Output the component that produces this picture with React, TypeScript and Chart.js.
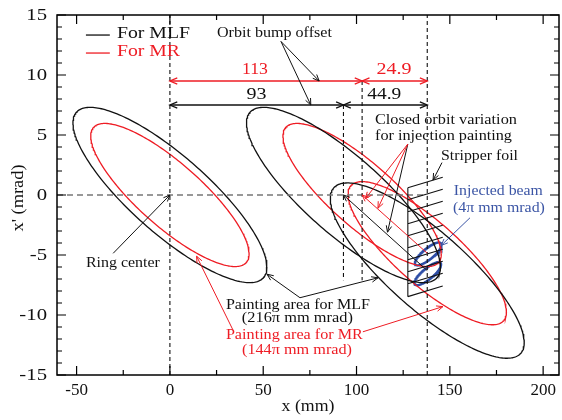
import React, { useEffect, useRef } from "react";
import { Chart, registerables } from "chart.js";
Chart.register(...registerables);

// ---------- axes ----------
const X_MIN = -60.5, X_MAX = 208.5, Y_MIN = -15, Y_MAX = 15;
const xTicks = [-50, 0, 50, 100, 150, 200];
const yTicks = [-15, -10, -5, 0, 5, 10, 15];
const xMinorStep = 25;
const yMinorStep = 1;

// ---------- beam ellipses (emittance in pi mm mrad, Twiss) ----------
const MLF_EMITTANCE = 216;
const MR_EMITTANCE = 144;
const INJ_EMITTANCE = 4;
const RING_BETA = 12.5, RING_ALPHA = 1.445;
const INJ_BETA = 12.8, INJ_ALPHA = -1.39;
const mlfCentersX = [0, 93, 137.9];
const mlfCentersY = [0, 0, -6.3];
const mrCentersX = [0, 103, 137.9];
const mrCentersY = [0, 0, -4.85];
const injCentersX = [138.4, 138.2];
const injCentersY = [-4.9, -6.55];

// ---------- orbit bump ----------
const bumpMLF = 93;
const bumpMR = 103;
const injectionX = 137.9;
const offsetLabels = ["113", "24.9", "93", "44.9"];

// ---------- stripper foil ----------
const foilX = 127.5, foilTop = 0.6, foilBottom = -8.47;
const hatchY = [0.6, -0.4, -1.4, -2.4, -3.4, -4.4, -5.4, -6.4, -7.4, -8.47];
const hatchDx = 18.7, hatchDy = 0.88;

const BLACK = "#111111";
const RED = "#ee1c24";
const BLUE = "#3b55a5";
const FONT = '"Liberation Serif", "Times New Roman", serif';

function ellipsePoints(cx: number, cy: number, eps: number, beta: number, alpha: number) {
  const pts: { x: number; y: number }[] = [];
  const a = Math.sqrt(eps * beta), b = Math.sqrt(eps / beta);
  const n = 240;
  for (let i = 0; i <= n; i++) {
    const t = (2 * Math.PI * i) / n;
    pts.push({ x: cx + a * Math.cos(t), y: cy - b * (alpha * Math.cos(t) + Math.sin(t)) });
  }
  return pts;
}

// layout of annotations (data coordinates)
const texts = [
  { s: "Orbit bump offset", x: 56.0, y: 13.5, size: 14, w: 115, c: BLACK },
  { s: offsetLabels[0], x: 45.6, y: 10.42, size: 16.5, w: 26, c: RED },
  { s: offsetLabels[1], x: 120.1, y: 10.42, size: 16.5, w: 35, c: RED },
  { s: offsetLabels[2], x: 46.4, y: 8.33, size: 16.5, w: 20, c: BLACK },
  { s: offsetLabels[3], x: 114.9, y: 8.33, size: 16.5, w: 34, c: BLACK },
  { s: "Closed orbit variation", x: 147.9, y: 6.25, size: 14, w: 142, c: BLACK },
  { s: "for injection painting", x: 146.6, y: 4.92, size: 14, w: 137, c: BLACK },
  { s: "Stripper foil", x: 165.9, y: 3.25, size: 14, w: 77, c: BLACK },
  { s: "Injected beam", x: 176.0, y: 0.33, size: 14, w: 89, c: BLUE },
  { s: "(4\u03c0 mm mrad)", x: 176.3, y: -1.08, size: 14, w: 92, c: BLUE },
  { s: "Ring center", x: -25.2, y: -5.67, size: 14, w: 74, c: BLACK },
  { s: "Painting area for MLF", x: 68.6, y: -9.17, size: 14, w: 144, c: BLACK },
  { s: "(216\u03c0 mm mrad)", x: 68.3, y: -10.25, size: 14, w: 111, c: BLACK },
  { s: "Painting area for MR", x: 66.7, y: -11.67, size: 14, w: 137, c: RED },
  { s: "(144\u03c0 mm mrad)", x: 68.1, y: -12.92, size: 14, w: 110, c: RED },
  { s: "For MLF", x: -8.8, y: 13.42, size: 17, w: 73, c: BLACK },
  { s: "For MR", x: -11.5, y: 11.92, size: 17, w: 63, c: RED },
];

const pointers = [
  { from: [59.5, 12.8], to: [80, 9.5], c: BLACK },
  { from: [59.5, 12.8], to: [75.5, 7.5], c: BLACK },
  { from: [127.5, 4.25], to: [116.6, -3.1], c: BLACK },
  { from: [127.5, 4.25], to: [111.5, -1.1], c: RED },
  { from: [127.5, 4.25], to: [104.8, -0.3], c: RED },
  { from: [-30.4, -4.86], to: [0, 0], c: BLACK },
  { from: [69.7, -8.56], to: [52, -6.6], c: BLACK },
  { from: [69.7, -8.56], to: [111.5, -6.9], c: BLACK },
  { from: [33.8, -11.25], to: [14.3, -5.1], c: RED },
  { from: [103.4, -11.4], to: [146.3, -9.3], c: RED },
  { from: [145.8, 2.7], to: [141, 1.25], c: BLACK },
  { from: [160.8, -1.9], to: [145.4, -4.2], c: BLUE },
  { from: [mlfCentersX[2], mlfCentersY[2]], to: [bumpMLF, 0], c: BLACK },
  { from: [mrCentersX[2], mrCentersY[2]], to: [bumpMR, 0], c: RED },
];

function arrowHead(ctx: CanvasRenderingContext2D, x1: number, y1: number, x2: number, y2: number, len = 7, ang = 0.38) {
  const a = Math.atan2(y2 - y1, x2 - x1);
  ctx.beginPath();
  ctx.moveTo(x2 - len * Math.cos(a - ang), y2 - len * Math.sin(a - ang));
  ctx.lineTo(x2, y2);
  ctx.lineTo(x2 - len * Math.cos(a + ang), y2 - len * Math.sin(a + ang));
  ctx.stroke();
}

function drawText(ctx: CanvasRenderingContext2D, s: string, px: number, py: number, size: number, color: string, width?: number, align: CanvasTextAlign = "center") {
  ctx.save();
  ctx.font = `${size}px ${FONT}`;
  ctx.fillStyle = color;
  ctx.textBaseline = "middle";
  ctx.textAlign = align;
  const w = ctx.measureText(s).width;
  const sx = width ? width / w : 1;
  ctx.translate(px, py);
  ctx.scale(sx, 1);
  ctx.fillText(s, 0, 0);
  ctx.restore();
}

const overlay = {
  id: "overlay",
  afterDatasetsDraw(chart: any) {
    const ctx: CanvasRenderingContext2D = chart.ctx;
    const X = (v: number) => chart.scales.x.getPixelForValue(v);
    const Y = (v: number) => chart.scales.y.getPixelForValue(v);
    const area = chart.chartArea;
    ctx.save();
    ctx.lineCap = "butt";

    // stripper foil
    ctx.strokeStyle = BLACK;
    ctx.lineWidth = 1.1;
    ctx.beginPath();
    ctx.moveTo(X(foilX), Y(foilTop));
    ctx.lineTo(X(foilX), Y(foilBottom));
    hatchY.forEach((h) => {
      ctx.moveTo(X(foilX), Y(h));
      ctx.lineTo(X(foilX + hatchDx), Y(h + hatchDy));
    });
    ctx.stroke();

    // dimension arrows
    const dims = [
      { a: 0, b: bumpMR, y: 9.5, c: RED },
      { a: bumpMR, b: injectionX, y: 9.5, c: RED },
      { a: 0, b: bumpMLF, y: 7.5, c: BLACK },
      { a: bumpMLF, b: injectionX, y: 7.5, c: BLACK },
    ];
    dims.forEach((d) => {
      ctx.strokeStyle = d.c;
      ctx.lineWidth = 1.3;
      const x1 = X(d.a), x2 = X(d.b), yy = Y(d.y);
      ctx.beginPath();
      ctx.moveTo(x1, yy);
      ctx.lineTo(x2, yy);
      ctx.stroke();
      arrowHead(ctx, x2, yy, x1, yy, 8, 0.4);
      arrowHead(ctx, x1, yy, x2, yy, 8, 0.4);
    });

    // pointers
    pointers.forEach((p) => {
      ctx.strokeStyle = p.c;
      ctx.lineWidth = 1.0;
      const x1 = X(p.from[0]), y1 = Y(p.from[1]), x2 = X(p.to[0]), y2 = Y(p.to[1]);
      ctx.beginPath();
      ctx.moveTo(x1, y1);
      ctx.lineTo(x2, y2);
      ctx.stroke();
      arrowHead(ctx, x1, y1, x2, y2, 7, 0.4);
    });

    // legend samples
    ctx.lineWidth = 1.3;
    ctx.strokeStyle = BLACK;
    ctx.beginPath();
    ctx.moveTo(X(-45), Y(13.33));
    ctx.lineTo(X(-32.2), Y(13.33));
    ctx.stroke();
    ctx.strokeStyle = RED;
    ctx.beginPath();
    ctx.moveTo(X(-45), Y(11.83));
    ctx.lineTo(X(-32.2), Y(11.83));
    ctx.stroke();

    texts.forEach((t) => drawText(ctx, t.s, X(t.x), Y(t.y), t.size, t.c, t.w));

    // frame
    ctx.strokeStyle = "#000";
    ctx.lineWidth = 1.5;
    ctx.strokeRect(area.left, area.top, area.right - area.left, area.bottom - area.top);

    // ticks (inward, all four sides)
    ctx.lineWidth = 1.2;
    ctx.beginPath();
    for (let v = Math.ceil(X_MIN / xMinorStep) * xMinorStep; v <= X_MAX; v += xMinorStep) {
      const major = xTicks.includes(v);
      const L = major ? 9 : 5;
      const px = X(v);
      ctx.moveTo(px, area.bottom); ctx.lineTo(px, area.bottom - L);
      ctx.moveTo(px, area.top); ctx.lineTo(px, area.top + L);
    }
    for (let v = Y_MIN; v <= Y_MAX; v += yMinorStep) {
      const major = yTicks.includes(v);
      const L = major ? 9 : 5;
      const py = Y(v);
      ctx.moveTo(area.left, py); ctx.lineTo(area.left + L, py);
      ctx.moveTo(area.right, py); ctx.lineTo(area.right - L, py);
    }
    ctx.stroke();

    // tick labels
    xTicks.forEach((v) => drawText(ctx, String(v), X(v), area.bottom + 16, 17, "#111", undefined));
    yTicks.forEach((v) => {
      ctx.save();
      ctx.font = `17px ${FONT}`;
      ctx.fillStyle = "#111";
      ctx.textAlign = "right";
      ctx.textBaseline = "middle";
      ctx.translate(area.left - 10, Y(v) + 1);
      ctx.scale(1.22, 1);
      ctx.fillText(String(v), 0, 0);
      ctx.restore();
    });
    // axis titles
    drawText(ctx, "x (mm)", (area.left + area.right) / 2, 407, 17, "#111", 53);
    ctx.save();
    ctx.translate(19, 198);
    ctx.rotate(-Math.PI / 2);
    drawText(ctx, "x' (mrad)", 0, 0, 17, "#111", 67);
    ctx.restore();

    ctx.restore();
  },
};

export default function App() {
  const ref = useRef<HTMLCanvasElement | null>(null);
  useEffect(() => {
    if (!ref.current) return;
    const ell = (cx: number, cy: number, eps: number, beta: number, alpha: number, color: string, w: number) => ({
      data: ellipsePoints(cx, cy, eps, beta, alpha),
      showLine: true,
      borderColor: color,
      borderWidth: w,
      pointRadius: 0,
      fill: false,
      tension: 0,
    });
    const vline = (x: number, y1: number, y2: number, color: string, dash: number[]) => ({
      data: [{ x, y: y1 }, { x, y: y2 }],
      showLine: true,
      borderColor: color,
      borderWidth: 1.1,
      borderDash: dash,
      pointRadius: 0,
      fill: false,
    });
    const datasets: any[] = [
      vline(0, Y_MIN, Y_MAX, BLACK, [4, 3]),
      vline(injectionX, Y_MIN, Y_MAX, BLACK, [4, 3]),
      vline(bumpMLF, 7.5, -7.1, BLACK, [4, 3]),
      vline(bumpMR, 9.5, -7.1, BLACK, [4, 3]),
      {
        data: [{ x: X_MIN, y: 0 }, { x: injectionX, y: 0 }],
        showLine: true, borderColor: "#777", borderWidth: 1.3, borderDash: [6, 4], pointRadius: 0, fill: false,
      },
    ];
    mlfCentersX.forEach((cx, i) => datasets.push(ell(cx, mlfCentersY[i], MLF_EMITTANCE, RING_BETA, RING_ALPHA, BLACK, 1.3)));
    mrCentersX.forEach((cx, i) => datasets.push(ell(cx, mrCentersY[i], MR_EMITTANCE, RING_BETA, RING_ALPHA, RED, 1.3)));
    injCentersX.forEach((cx, i) => datasets.push(ell(cx, injCentersY[i], INJ_EMITTANCE, INJ_BETA, INJ_ALPHA, "#2d4da6", 2.2)));

    const chart = new Chart(ref.current, {
      type: "scatter",
      data: { datasets },
      options: {
        animation: false,
        responsive: false,
        devicePixelRatio: 1,
        layout: { padding: { left: 57, top: 15, right: 3, bottom: 45 } },
        plugins: { legend: { display: false }, tooltip: { enabled: false } },
        scales: {
          x: { type: "linear", min: X_MIN, max: X_MAX, display: false },
          y: { type: "linear", min: Y_MIN, max: Y_MAX, display: false },
        },
      },
      plugins: [overlay],
    } as any);
    return () => chart.destroy();
  }, []);
  return (
    <div style={{ position: "fixed", left: 0, top: 0, width: 562, height: 420, background: "#fff" }}>
      <canvas ref={ref} width={562} height={420} />
    </div>
  );
}
